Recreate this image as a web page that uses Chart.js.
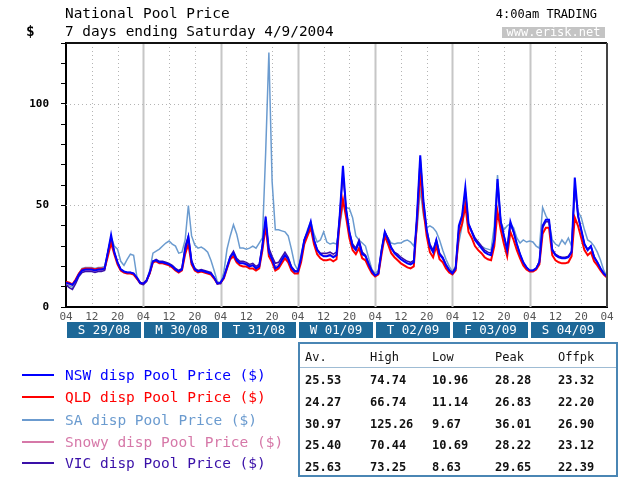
<!DOCTYPE html>
<html>
<head>
<meta charset="utf-8">
<script src="https://cdn.jsdelivr.net/npm/chart.js@4.4.1/dist/chart.umd.min.js"></script>
<style>
  body { margin: 0; background: #fff; }
  #wrap { position: relative; width: 619px; height: 477px; overflow: hidden; font-family: 'DejaVu Sans Mono', monospace; }
  #c { position: absolute; left: 0; top: 0; }
  .t { position: absolute; white-space: pre; color: #000; line-height: 16px; }
  .leg-line { position: absolute; left: 22px; width: 32px; height: 2px; }
  .leg-txt { position: absolute; left: 65px; font-size: 14.5px; line-height: 16px; white-space: pre; }
  #stats { position: absolute; left: 298px; top: 342px; width: 316px; height: 131px; border: 2px solid #4a86b4; }
  .cell { position: absolute; font-size: 12px; font-weight: bold; line-height: 14px; white-space: pre; color: #111; }
</style>
</head>
<body>
<div id="wrap">
  <canvas id="c" width="619" height="477"></canvas>
  <div class="t" style="left:65px; top:5px; font-size:14.4px;">National Pool Price</div>
  <div class="t" style="left:65px; top:23px; font-size:14.4px;">7 days ending Saturday 4/9/2004</div>
  <div class="t" style="left:26px; top:23px; font-size:14.4px; font-weight:bold;">$</div>
  <div class="t" style="right:22px; top:6px; font-size:12px;">4:00am TRADING</div>
  <div class="t" style="left:502px; top:27px; width:103px; height:11px; line-height:11px; background:#c4c4c4; color:#fff; font-size:12px; text-align:center;">www.erisk.net</div>
  <div id="legend"></div>
  <div id="stats"></div>
</div>
<script>
// --- DONNEES (une valeur par heure, depuis 04:00 le dim. 29/08) ---
const dayLabels = ['S 29/08', 'M 30/08', 'T 31/08', 'W 01/09', 'T 02/09', 'F 03/09', 'S 04/09'];
const hourTicks = ['04', '12', '20'];

const NSW = [
  12, 11.5, 10.96, 13, 16, 18, 18.5, 18.5, 18.5, 18, 18.5, 18.5, 19, 27, 35.5, 27, 22, 18.5, 17.5, 17, 17, 16.5, 14.5, 12,
  11.5, 13, 17, 22.5, 23, 22, 22, 21.5, 21, 20, 18.5, 17.5, 18.5, 28, 34.5, 22, 18.5, 17.5, 18, 17.5, 17, 16.5, 14.5, 11.5,
  12, 14.5, 19.5, 24.5, 26.5, 23, 21.5, 21.5, 21, 20, 20.5, 19, 20, 30, 44.5, 27, 23.5, 19, 20, 23, 25.5, 23.5, 19.5, 17.5,
  17.5, 24, 33, 37, 42, 33, 28, 26, 25, 25, 25.5, 24.5, 25.5, 45, 69.5, 48, 37, 30, 28, 32, 26, 25, 21, 17.5,
  15.5, 16.5, 28, 37, 33, 29, 26.5, 25, 23.5, 22.5, 21.5, 21, 22, 45, 74.74, 52, 38, 30, 27, 33, 26, 24, 20.5, 18,
  16.5, 19, 40, 45, 59, 41, 37, 33, 31, 29, 27, 26, 25.5, 33, 63, 42, 35, 28, 42, 37, 31, 26, 22, 19.5,
  18, 18, 19, 22, 40, 43, 43, 28, 25.5, 24.5, 24, 24, 24.5, 27, 63.7, 45, 38, 31, 28, 30, 24.5, 22, 19, 16.5, 15
];
const QLD = [
  12.5, 12, 11.14, 13.5, 16.5, 18.5, 19, 19, 19, 18.5, 19, 19, 19, 25, 31.5, 26, 21, 18, 17, 16.5, 16.5, 16, 14, 12,
  11.5, 13, 16.5, 22, 22.5, 21.5, 21.5, 21, 20.5, 19.5, 18, 17, 18, 26, 31, 21, 18, 17, 17.5, 17, 16.5, 16, 14, 11.5,
  12, 14, 19, 23.5, 25, 22, 20.5, 20, 20, 19, 19, 18, 19, 28, 40, 25, 22, 18, 19, 21.5, 24, 22, 18, 16.5,
  16.5, 22, 31, 35, 39, 31, 26, 24, 23, 23, 23.5, 22.5, 23.5, 42, 53, 44, 34, 28, 26, 29, 24, 23, 19.5, 16.5,
  15, 16, 26, 35, 31, 26.5, 24.5, 23, 21.5, 20.5, 19.5, 19, 20, 42, 66.74, 48, 35, 27, 24.5, 30, 23.5, 22, 19, 17,
  16, 18, 36, 41, 50, 37, 34, 30, 28, 26.5, 24.5, 23.5, 23, 30, 47, 38, 31, 25, 37, 33, 28, 24, 20.5, 18.5,
  17.5, 17.5, 18.5, 21, 36, 39, 39, 25.5, 23, 22, 21.5, 21.5, 22, 25, 44, 40, 34, 28, 25.5, 27, 22.5, 20.5, 18, 16, 14.5
];
const SA = [
  11, 10.5, 9.67, 12.5, 16.5, 19, 19.5, 19.5, 19.5, 19, 19.5, 19.5, 20, 27, 34.5, 30, 28.5, 22.5, 20.5, 23.5, 26, 25.5, 15, 12,
  11, 13, 18, 26.5, 27.5, 28.5, 30, 31.5, 32.5, 31, 30, 26.5, 27, 33, 50, 35, 30.5, 29, 29.5, 28.5, 27, 23, 18, 12.5,
  12, 17, 28.5, 35, 40.5, 36, 29, 29, 28.5, 29, 30, 29, 31.5, 34, 76, 125.26, 62, 38, 38, 37.5, 37, 35, 28.5, 21,
  18, 26, 33, 38, 42, 36, 32, 33, 37, 32, 31, 31.5, 31, 40, 50, 49, 48.5, 44, 35, 33, 31.5, 30, 24, 18.5,
  16.5, 18, 28, 36, 34, 31.5, 31, 31.5, 31.5, 32.5, 33, 32, 30, 38, 58, 45, 39, 40, 39, 37, 33, 28, 23.5, 20,
  17.5, 20, 32, 40, 50, 40, 37, 34, 32, 30, 29, 28.5, 28, 40, 65, 42, 38, 40, 41, 39, 34, 31.5, 33, 32,
  32.5, 32, 30, 29, 49, 45, 42, 33, 31, 30, 33, 31, 34, 30, 58, 47, 44, 38, 33, 32, 30, 27, 23, 18, 15
];
const SNOWY = [
  11.5, 11, 10.69, 12.5, 15.5, 17.5, 18, 18, 18, 17.5, 18, 18, 18.5, 27, 34.5, 27, 22, 18.5, 17.5, 17, 17, 16.5, 14.5, 12,
  11.5, 13, 17, 22.5, 23, 22, 22, 21.5, 21, 20, 18.5, 17.5, 18.5, 28.5, 34, 22.5, 18.5, 17.5, 18, 17.5, 17, 16.5, 14.5, 11.5,
  12, 14.5, 19.5, 24.5, 26.5, 23.5, 22, 22, 21.5, 20.5, 21, 19.5, 20.5, 30, 43, 27.5, 24, 20, 21, 23.5, 26, 23.5, 19.5, 17.5,
  17.5, 23.5, 32.5, 36.5, 41, 33, 28, 26, 25.5, 25.5, 26, 25, 26, 44, 66.5, 47, 36.5, 30, 28, 32, 26, 25, 21, 17.5,
  15.5, 16.5, 27.5, 37, 33.5, 29, 26.5, 25, 23.5, 22.5, 21.5, 21, 22, 44, 70.44, 51, 37, 30, 27, 32.5, 26, 24, 20.5, 18,
  16.5, 19, 39, 44, 57, 40.5, 36.5, 33, 31, 29, 27, 26, 25.5, 32.5, 61, 41.5, 34.5, 28, 41, 36.5, 30.5, 25.5, 21.5, 19,
  17.5, 17.5, 18.5, 22, 39, 42, 42, 28, 25.5, 24.5, 24, 24, 24.5, 27, 61, 44.5, 37.5, 30.5, 28, 29.5, 24.5, 21.5, 18.5, 16, 14.5
];
const VIC = [
  11, 9.5, 8.63, 11.5, 15, 17, 17.5, 17.5, 17.5, 17, 17.5, 17.5, 18, 27, 34, 27, 22, 18.5, 17.5, 17, 17, 16.5, 14, 11.5,
  11, 12.5, 16.5, 22.5, 23.5, 22.5, 22.5, 22, 21.5, 20.5, 19, 18, 19, 30, 35, 23, 19, 18, 18.5, 18, 17.5, 17, 14.5, 11.5,
  11.5, 14.5, 20, 25, 27.5, 24, 22.5, 22.5, 22, 21, 21.5, 20, 21, 31, 42, 29, 25, 21.5, 22, 24.5, 27, 24.5, 20, 18,
  17.5, 24, 33, 37, 41, 33, 28.5, 26.5, 26.5, 26.5, 27, 26, 27, 45, 66, 48, 37, 31, 29, 33, 27, 25.5, 21.5, 18,
  15.5, 16.5, 28, 37, 34, 29.5, 27, 26, 24.5, 23.5, 22.5, 22, 23, 44, 73.25, 52, 38, 31, 28, 33, 26.5, 24.5, 21, 18.5,
  17, 19.5, 39, 44, 57, 41, 37.5, 34, 32, 30, 28, 27, 26.5, 33, 61, 42, 35, 29, 41, 37, 31, 26, 22, 19.5,
  18, 18, 19, 22.5, 39, 42, 42, 28.5, 26, 25, 24.5, 24.5, 25, 27.5, 60, 45, 38, 31, 28.5, 30, 25, 22, 19, 16.5, 15
];

// tableau de droite
const statHeads = ['Av.', 'High', 'Low', 'Peak', 'Offpk'];
const statNSW   = ['25.53', '74.74', '10.96', '28.28', '23.32'];
const statQLD   = ['24.27', '66.74', '11.14', '26.83', '22.20'];
const statSA    = ['30.97', '125.26', '9.67', '36.01', '26.90'];
const statSNOWY = ['25.40', '70.44', '10.69', '28.22', '23.12'];
const statVIC   = ['25.63', '73.25', '8.63', '29.65', '22.39'];

const hours = NSW.map((_, i) => i); // position en heures depuis le debut

const series = [
  { label: 'NSW disp Pool Price ($)',   data: NSW,   color: '#0000ff', width: 2,   order: 1 },
  { label: 'QLD disp Pool Price ($)',   data: QLD,   color: '#ff0000', width: 2,   order: 2 },
  { label: 'SA disp Pool Price ($)',    data: SA,    color: '#6b9bcf', width: 1.5, order: 5 },
  { label: 'Snowy disp Pool Price ($)', data: SNOWY, color: '#d678a8', width: 1.2, order: 4 },
  { label: 'VIC disp Pool Price ($)',   data: VIC,   color: '#3a10a8', width: 1.5, order: 3 }
];

// --- LEGENDE ---
const legend = document.getElementById('legend');
const legY = [375, 397, 420, 442, 463];
series.forEach((s, i) => {
  legend.innerHTML += `<div class="leg-line" style="top:${legY[i] - 1}px; background:${s.color}"></div>` +
    `<div class="leg-txt" style="top:${legY[i] - 8}px; color:${s.color}">${s.label}</div>`;
});

// --- TABLEAU ---
const stats = document.getElementById('stats');
const colX = [5, 70, 132, 195, 258];
const rows = [statHeads, statNSW, statQLD, statSA, statSNOWY, statVIC];
const rowY = [6, 29, 51, 73, 94, 116];
rows.forEach((r, ri) => {
  r.forEach((v, ci) => {
    stats.innerHTML += `<div class="cell" style="left:${colX[ci]}px; top:${rowY[ri]}px; ${ri === 0 ? 'font-weight:normal;' : ''}">${v}</div>`;
  });
});
stats.innerHTML += '<div style="position:absolute; left:0; right:0; top:23px; height:1px; background:#9fbcd4"></div>';

// --- GRILLE + CADRE + BANDEAU DES JOURS ---
const framePlugin = {
  id: 'frame',
  beforeDatasetsDraw(chart) {
    const { ctx, chartArea: a, scales: { x, y } } = chart;
    ctx.save();
    x.ticks.forEach(t => {
      if (t.value <= x.min || t.value >= x.max) return;
      const px = Math.round(x.getPixelForValue(t.value)) + 0.5;
      ctx.beginPath();
      if (t.value % 24 === 0) {
        ctx.strokeStyle = '#c6c6c6'; ctx.lineWidth = 2; ctx.setLineDash([]);
      } else {
        ctx.strokeStyle = '#b4b4b4'; ctx.lineWidth = 1; ctx.setLineDash([1, 3]);
      }
      ctx.moveTo(px, a.top); ctx.lineTo(px, a.bottom); ctx.stroke();
    });
    ctx.setLineDash([1, 3]);
    ctx.strokeStyle = '#b4b4b4'; ctx.lineWidth = 1;
    y.ticks.forEach(t => {
      if (t.value === 0 || t.value % 50 !== 0) return;
      const py = Math.round(y.getPixelForValue(t.value)) + 0.5;
      ctx.beginPath(); ctx.moveTo(a.left, py); ctx.lineTo(a.right, py); ctx.stroke();
    });
    ctx.restore();
  },
  afterDraw(chart) {
    const { ctx, chartArea: a, scales: { x } } = chart;
    ctx.save();
    ctx.lineWidth = 2;
    ctx.strokeStyle = '#111';
    ctx.beginPath(); ctx.moveTo(a.left, a.top); ctx.lineTo(a.right, a.top); ctx.stroke();
    ctx.strokeStyle = '#444';
    ctx.beginPath(); ctx.moveTo(a.right, a.top); ctx.lineTo(a.right, a.bottom); ctx.stroke();

    ctx.font = '12.5px "DejaVu Sans Mono"';
    ctx.textAlign = 'center';
    ctx.textBaseline = 'middle';
    dayLabels.forEach((d, i) => {
      const x0 = Math.round(x.getPixelForValue(i * 24)) + 1;
      const x1 = Math.round(x.getPixelForValue((i + 1) * 24)) - 2;
      ctx.fillStyle = '#1d6898';
      ctx.fillRect(x0, a.bottom + 15, x1 - x0, 16);
      ctx.fillStyle = '#fff';
      ctx.fillText(d, (x0 + x1) / 2, a.bottom + 23.5);
    });
    ctx.restore();
  }
};

new Chart(document.getElementById('c'), {
  type: 'line',
  data: {
    labels: hours,
    datasets: series.map(s => ({
      label: s.label,
      data: s.data,
      borderColor: s.color,
      backgroundColor: s.color,
      borderWidth: s.width,
      order: s.order,
      pointRadius: 0,
      tension: 0,
      fill: false
    }))
  },
  options: {
    responsive: false,
    animation: false,
    layout: { padding: { top: 43, right: 12, left: 0, bottom: 0 } },
    plugins: { legend: { display: false }, tooltip: { enabled: false } },
    scales: {
      x: {
        type: 'linear',
        min: 0,
        max: 168,
        afterFit: s => { s.height = 170; },
        grid: { display: false, drawTicks: false },
        border: { display: true, color: '#000', width: 2 },
        ticks: {
          stepSize: 8,
          padding: 4,
          maxRotation: 0,
          autoSkip: false,
          color: '#555',
          font: { family: 'DejaVu Sans Mono', size: 11 },
          callback: v => hourTicks[(v / 8) % 3]
        }
      },
      y: {
        min: 0,
        max: 130,
        afterFit: s => { s.width = 66; },
        grid: { drawOnChartArea: false, tickLength: 5, color: '#000' },
        border: { display: true, color: '#000', width: 2 },
        ticks: {
          stepSize: 10,
          padding: 12,
          color: '#000',
          font: { family: 'DejaVu Sans Mono', size: 11, weight: 'bold' },
          callback: v => (v % 50 === 0 ? v : '')
        }
      }
    }
  },
  plugins: [framePlugin]
});
</script>
</body>
</html>
